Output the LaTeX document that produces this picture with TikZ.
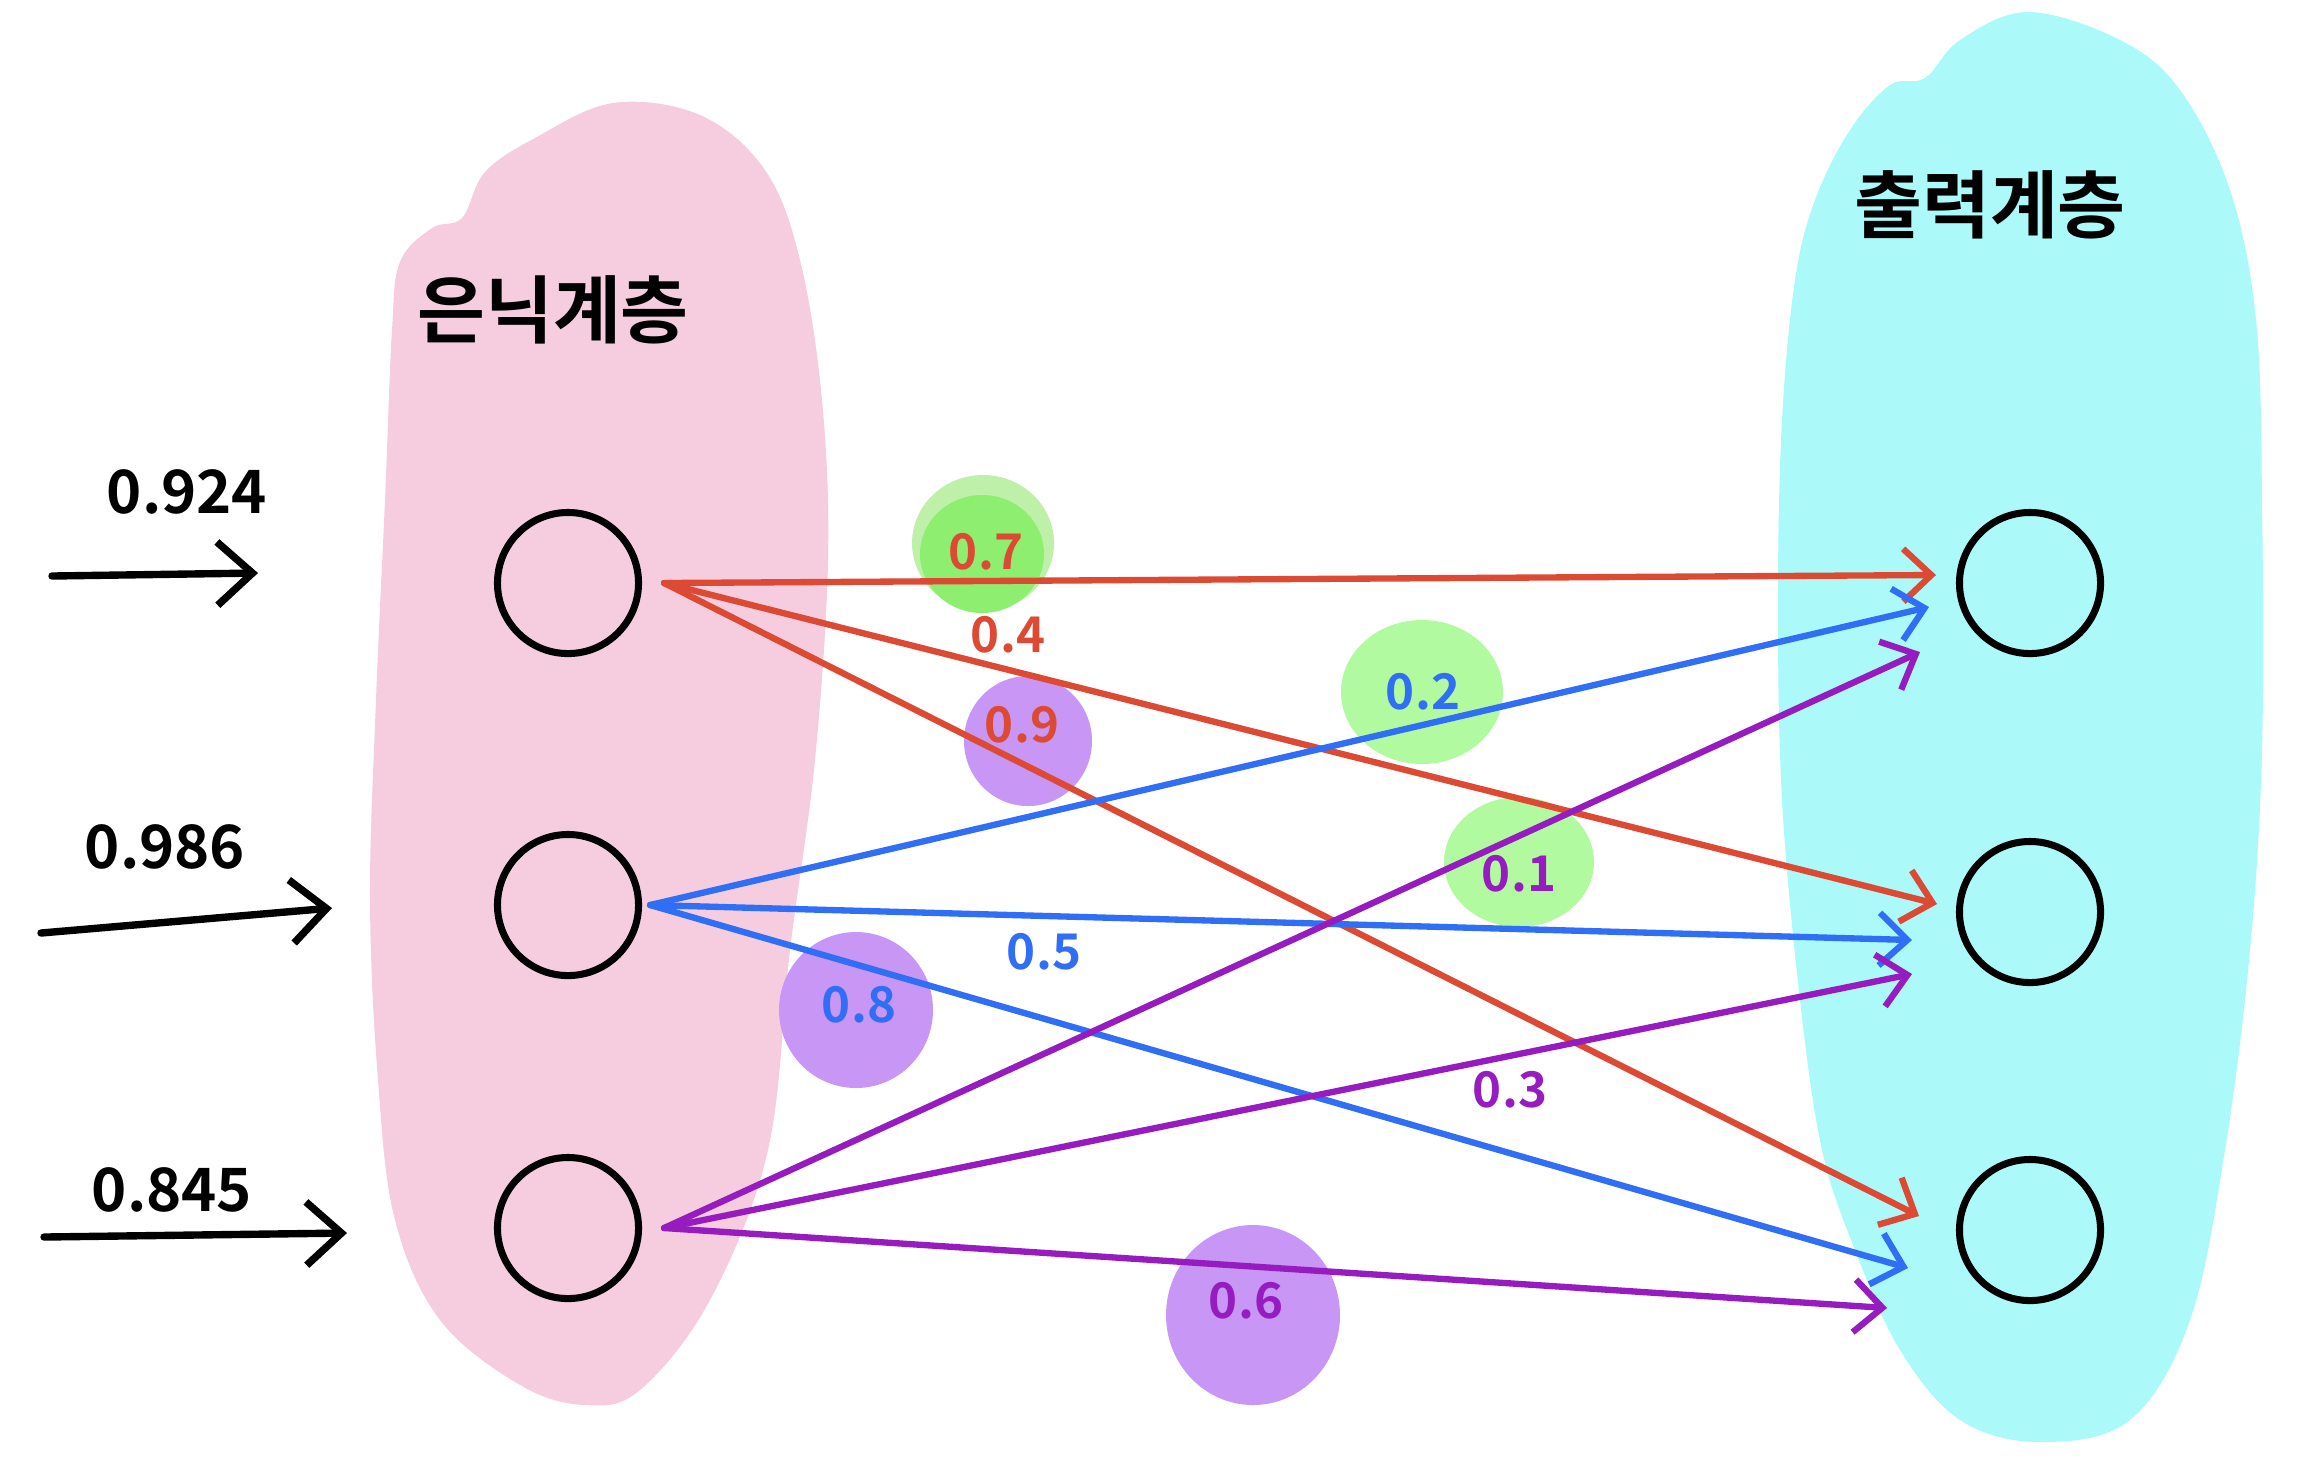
\documentclass[tikz,border=0pt]{standalone}
\usepackage{fontspec}
\setmainfont{Noto Sans CJK KR}[BoldFont={Noto Sans CJK KR Bold}]
\usetikzlibrary{arrows.meta}
\definecolor{redline}{RGB}{220,74,52}
\definecolor{blueline}{RGB}{48,110,245}
\definecolor{purpleline}{RGB}{150,28,192}
\definecolor{hidfill}{RGB}{245,205,222}
\definecolor{outfill}{RGB}{172,249,249}
\definecolor{greenblob}{RGB}{178,250,160}
\definecolor{greendeep}{RGB}{142,238,112}
\definecolor{greenpale}{RGB}{190,240,170}
\definecolor{purpleblob}{RGB}{200,150,245}
\tikzset{
    lab/.style={
        font=\fontsize{21}{26}\selectfont\bfseries
    }
}

\begin{document}
\begin{tikzpicture}[x=0.01cm,y=-0.01cm, line cap=round, line join=round]

\tikzset{
  edge/.style={line width=1.8pt, -{Straight Barb[length=8pt,width=15pt]}},
  inarr/.style={draw=black, line width=2.1pt, -{Straight Barb[length=10pt,width=18pt]}},
  neuron/.style={circle, draw=black, line width=2pt, minimum size=1.41cm, inner sep=0pt},
  wlab/.style={font=\fontsize{14}{16}\selectfont\bfseries},
  inlab/.style={font=\fontsize{17}{20}\selectfont\bfseries},
}

\useasboundingbox (0,0) rectangle (2315,1462);

% layer backgrounds
\fill[hidfill] plot[smooth cycle, tension=0.6] coordinates {
  (613,103) (700,115) (765,170) (800,260) (822,400) (828,560) (815,760)
  (790,950) (768,1150) (710,1300) (640,1390) (585,1405) (520,1385)
  (440,1320) (395,1220) (378,1080) (370,900) (376,700) (385,500)
  (392,330) (400,262) (432,228) (462,218) (485,172) (535,138)};
\fill[outfill] plot[smooth cycle, tension=0.6] coordinates {
  (2028,12) (2120,40) (2180,90) (2230,190) (2256,320) (2262,500)
  (2262,750) (2250,950) (2225,1150) (2190,1320) (2130,1420) (2040,1442)
  (1960,1420) (1900,1350) (1855,1250) (1822,1150) (1800,1000) (1782,800)
  (1778,600) (1782,420) (1795,280) (1815,200) (1850,130) (1890,85)
  (1925,78) (1960,40)};

% weight blobs
\fill[greenpale] (983,543) ellipse (71 and 68);
\fill[greendeep] (982,554) ellipse (62 and 59);
\fill[purpleblob] (1028,741) ellipse (64 and 65);
\fill[greenblob] (1422,692) ellipse (81 and 72);
\fill[greenblob] (1519,862) ellipse (75 and 65);
\fill[purpleblob] (856,1010) ellipse (77 and 78);
\fill[purpleblob] (1253,1315) ellipse (87 and 90);

% neurons
\node[neuron] (h1) at (568,583) {};
\node[neuron] (h2) at (568,905) {};
\node[neuron] (h3) at (568,1228) {};
\node[neuron] (o1) at (2030,583) {};
\node[neuron] (o2) at (2030,912) {};
\node[neuron] (o3) at (2030,1230) {};

% arrow ends in front of the output layer
\coordinate (r1) at (1936,575);
\coordinate (r2) at (1937,904);
\coordinate (r3) at (1919,1216);
\coordinate (b1) at (1929,607);
\coordinate (b2) at (1912,940);
\coordinate (b3) at (1908,1268);
\coordinate (p1) at (1920,652);
\coordinate (p2) at (1912,974);
\coordinate (p3) at (1887,1308);

% inputs
\coordinate (x1a) at (52,576);
\coordinate (x1b) at (258,573);
\coordinate (x2a) at (41,933);
\coordinate (x2b) at (332,908);
\coordinate (x3a) at (44,1237);
\coordinate (x3b) at (347,1233);

\draw[inarr] (x1a) -- (x1b);
\draw[inarr] (x2a) -- (x2b);
\draw[inarr] (x3a) -- (x3b);

\node[inlab] (x1) at (187,492) {0.924};
\node[inlab] (x2) at (165,847) {0.986};
\node[inlab] (x3) at (172,1190) {0.845};

% hidden -> output
\draw[edge, redline] ([xshift=0.22cm]h1.east) -- (r1);
\draw[edge, redline] ([xshift=0.22cm]h1.east) -- (r2);
\draw[edge, redline] ([xshift=0.22cm]h1.east) -- (r3);

\draw[edge, blueline] ([xshift=0.08cm]h2.east) -- (b1);
\draw[edge, blueline] ([xshift=0.08cm]h2.east) -- (b2);
\draw[edge, blueline] ([xshift=0.08cm]h2.east) -- (b3);

\draw[edge, purpleline] ([xshift=0.22cm]h3.east) -- (p1);
\draw[edge, purpleline] ([xshift=0.22cm]h3.east) -- (p2);
\draw[edge, purpleline] ([xshift=0.22cm]h3.east) -- (p3);

% weights
\node[wlab, text=redline] (w11) at (986,552) {0.7};
\node[wlab, text=redline] (w12) at (1008,635) {0.4};
\node[wlab, text=redline] (w13) at (1022,725) {0.9};
\node[wlab, text=blueline] (w21) at (1423,692) {0.2};
\node[wlab, text=blueline] (w22) at (1044,952) {0.5};
\node[wlab, text=blueline] (w23) at (859,1005) {0.8};
\node[wlab, text=purpleline] (w31) at (1519,874) {0.1};
\node[wlab, text=purpleline] (w32) at (1510,1090) {0.3};
\node[wlab, text=purpleline] (w33) at (1246,1301) {0.6};

% layer names
\node[lab] (hidlab) at (553,310) {은닉계층};
\node[lab] (outlab) at (1990,205) {출력계층};

\end{tikzpicture}
\end{document}
